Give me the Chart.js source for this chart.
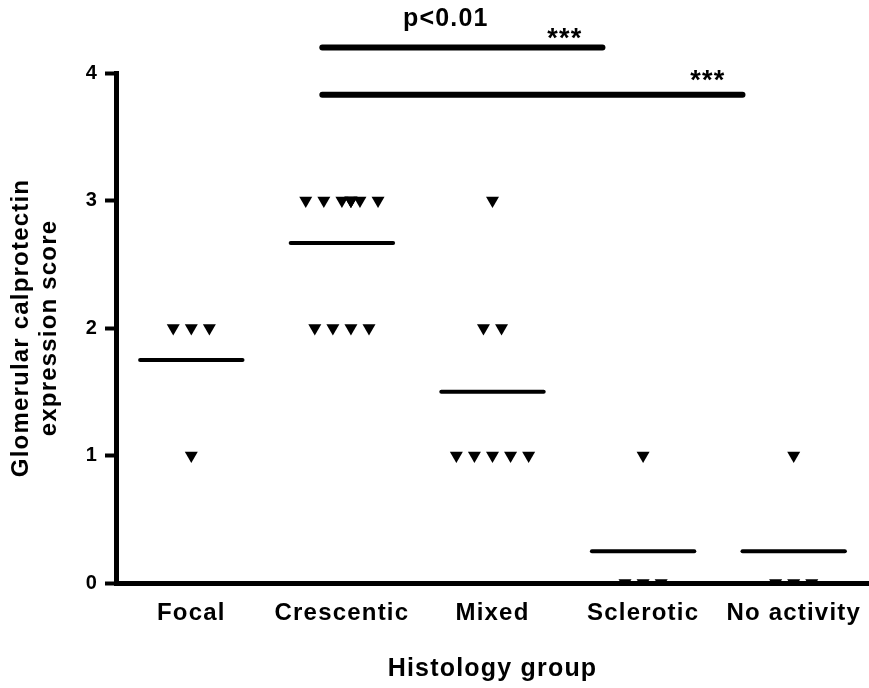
<!DOCTYPE html>
<html>
<head>
<meta charset="utf-8">
<script src="https://cdn.jsdelivr.net/npm/chart.js@4/dist/chart.umd.min.js"></script>
<style>
  html, body { margin: 0; padding: 0; background: #fff; }
  #wrap { width: 869px; height: 688px; }
</style>
</head>
<body>
<div id="wrap"><canvas id="chart" width="869" height="688"></canvas></div>
<script>
// Histology groups and glomerular calprotectin score of each patient
const groups = ['Focal', 'Crescentic', 'Mixed', 'Sclerotic', 'No activity'];
const focalScores = [2, 2, 2, 1];
const crescenticScores = [3, 3, 3, 3, 3, 3, 3, 3, 2, 2, 2, 2];
const mixedScores = [3, 2, 2, 1, 1, 1, 1, 1];
const scleroticScores = [1, 0, 0, 0];
const noActivityScores = [1, 0, 0, 0];
const yTicks = [0, 1, 2, 3, 4];

// significance bars (x span in group units, y level in score units)
const sigFrom = [0.87, 0.87];
const sigTo = [2.73, 3.66];
const sigLevel = [4.2, 3.83];
const sigStars = ['***', '***'];
const sigStarX = [2.48, 3.43];
const sigStarY = [4.31, 3.98];
const pText = 'p<0.01';
const pTextX = 1.69;
const pTextY = 4.42;

const FONT = "'Liberation Sans', Arial, sans-serif";
const SLOT = 0.12;      // horizontal spacing of tied points
const HALF_MEAN = 0.34; // half width of the mean bar

const allScores = [focalScores, crescenticScores, mixedScores, scleroticScores, noActivityScores];

// spread tied values sideways like a column scatter; more than five
// ties stack up half a slot right of centre
function spread(scores, gi) {
  const counts = {};
  scores.forEach(v => { counts[v] = (counts[v] || 0) + 1; });
  const pts = [];
  Object.keys(counts).forEach(k => {
    const n = counts[k];
    const main = Math.min(n, 5);
    const offs = [];
    for (let i = 0; i < main; i++) offs.push((i - (main - 1) / 2) * SLOT);
    for (let i = 0; i < n - main; i++) offs.push(0.5 * SLOT);
    offs.forEach(o => pts.push({ x: gi + o, y: +k }));
  });
  return pts;
}

const mean = arr => arr.reduce((a, b) => a + b, 0) / arr.length;

const datasets = [];
allScores.forEach((scores, gi) => {
  datasets.push({
    type: 'scatter',
    data: spread(scores, gi),
    pointStyle: 'triangle',
    rotation: 180,
    pointRadius: 7.5,
    pointBackgroundColor: '#000',
    pointBorderWidth: 0,
    clip: 0
  });
  const m = mean(scores);
  datasets.push({
    type: 'line',
    data: [{ x: gi - HALF_MEAN, y: m }, { x: gi + HALF_MEAN, y: m }],
    borderColor: '#000',
    borderWidth: 4,
    borderCapStyle: 'round',
    pointRadius: 0
  });
});
sigLevel.forEach((lvl, i) => {
  datasets.push({
    type: 'line',
    data: [{ x: sigFrom[i], y: lvl }, { x: sigTo[i], y: lvl }],
    borderColor: '#000',
    borderWidth: 6,
    borderCapStyle: 'round',
    pointRadius: 0,
    clip: false
  });
});

// significance text above the bars
const sigText = {
  id: 'sigText',
  afterDatasetsDraw(chart) {
    const { ctx, scales: { x, y } } = chart;
    ctx.save();
    ctx.fillStyle = '#000';
    ctx.textAlign = 'center';
    ctx.textBaseline = 'middle';
    ctx.font = 'bold 25px ' + FONT;
    ctx.fillText(pText, x.getPixelForValue(pTextX), y.getPixelForValue(pTextY));
    ctx.font = 'bold 27px ' + FONT;
    sigStars.forEach((s, i) => {
      ctx.fillText(s, x.getPixelForValue(sigStarX[i]), y.getPixelForValue(sigStarY[i]) + 6);
    });
    ctx.restore();
  }
};

const spacing = {
  id: 'spacing',
  beforeDraw(chart) { chart.ctx.letterSpacing = '1.2px'; }
};

new Chart(document.getElementById('chart'), {
  type: 'scatter',
  data: { datasets: datasets },
  options: {
    responsive: false,
    animation: false,
    events: [],
    layout: { autoPadding: false, padding: { top: 73, right: 0, left: 0, bottom: 0 } },
    plugins: { legend: { display: false }, tooltip: { enabled: false } },
    scales: {
      x: {
        type: 'linear',
        min: -0.5,
        max: 4.5,
        afterBuildTicks: s => { s.ticks = groups.map((g, i) => ({ value: i })); },
        afterFit: s => { s.height = 105; s.paddingLeft = 0; s.paddingRight = 0; },
        ticks: {
          callback: v => groups[v],
          color: '#000',
          font: { family: FONT, size: 24, weight: 'bold' },
          padding: 16,
          maxRotation: 0,
          autoSkip: false
        },
        grid: { display: false, drawTicks: false },
        border: { display: true, color: '#000', width: 5, z: 1 },
        title: {
          display: true,
          text: 'Histology group',
          color: '#000',
          font: { family: FONT, size: 25, weight: 'bold' },
          padding: { top: 0, bottom: 4 }
        }
      },
      y: {
        min: 0,
        max: 4,
        afterBuildTicks: s => { s.ticks = yTicks.map(v => ({ value: v })); },
        afterFit: s => { s.width = 116; },
        ticks: {
          color: '#000',
          font: { family: FONT, size: 20, weight: 'bold' },
          padding: 7
        },
        grid: {
          display: true,
          drawOnChartArea: false,
          drawTicks: true,
          tickLength: 11,
          tickWidth: 4,
          tickColor: '#000'
        },
        border: { display: true, color: '#000', width: 5, z: 1 },
        title: {
          display: true,
          text: ['Glomerular calprotectin', 'expression score'],
          color: '#000',
          font: { family: FONT, size: 24, weight: 'bold', lineHeight: 1.15 },
          padding: { top: 8, bottom: 0 }
        }
      }
    }
  },
  plugins: [spacing, sigText]
});
</script>
</body>
</html>
